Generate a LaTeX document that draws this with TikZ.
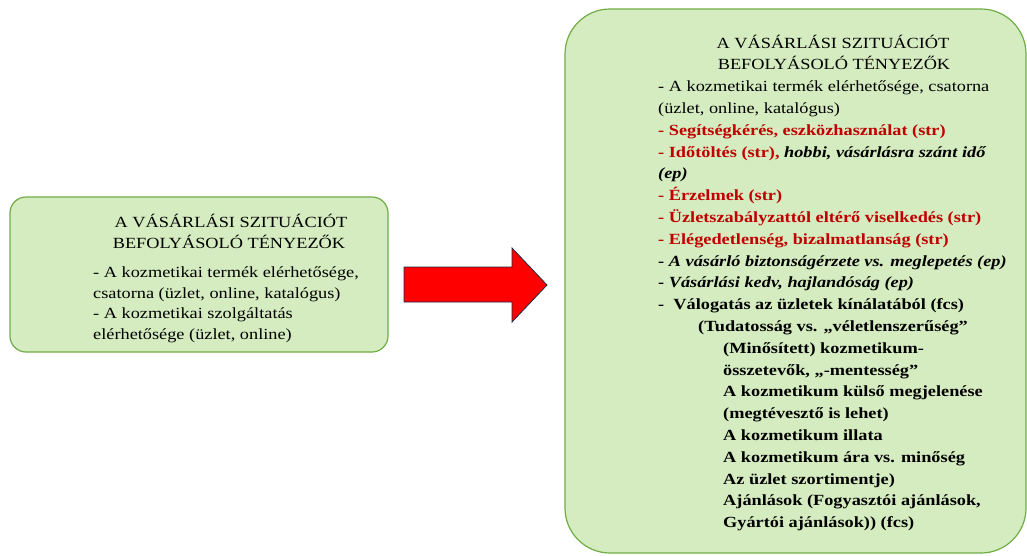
\documentclass[tikz,border=0pt]{standalone}
\usepackage{fontspec}
\setmainfont{Liberation Serif}[FakeStretch=1.18]
\definecolor{boxfill}{RGB}{213,236,192}
\definecolor{boxline}{RGB}{112,173,71}
\definecolor{txtred}{RGB}{192,0,0}
\definecolor{arrowline}{RGB}{31,42,68}
\tikzset{
  box/.style={draw=boxline, line width=1.2pt, fill=boxfill},
  ln/.style={anchor=base west, inner sep=0pt, font=\fontsize{15.5}{18}\selectfont},
  ttl/.style={anchor=base, inner sep=0pt, font=\fontsize{15.5}{18}\selectfont},
  bigarrow/.style={draw=arrowline, line width=0.8pt, fill=red}
}
\newcommand{\rb}[1]{\textcolor{txtred}{\bfseries #1}}
\begin{document}
\begin{tikzpicture}[x=1pt,y=-1pt]
\useasboundingbox (0,0) rectangle (1027,555);
% left box
\draw[box, rounded corners=16pt] (10,197) rectangle (388,352);
\node[ttl] (lt1) at (231,227) {A VÁSÁRLÁSI SZITUÁCIÓT};
\node[ttl] (lt2) at (229,248) {BEFOLYÁSOLÓ TÉNYEZŐK};
\node[ln] (la) at (93,277) {- A kozmetikai termék elérhetősége,};
\node[ln] (lb) at (93,298) {csatorna (üzlet, online, katalógus)};
\node[ln] (lc) at (93,318) {- A kozmetikai szolgáltatás};
\node[ln] (ld) at (93,339) {elérhetősége (üzlet, online)};
% arrow
\draw[bigarrow] (404,267) -- (512,267) -- (512,248) -- (547,285) -- (512,322) -- (512,302) -- (404,302) -- cycle;
% right box
\draw[box, rounded corners=45pt] (565,9) rectangle (1026,553);
\node[ttl] (rt1) at (833,48) {A VÁSÁRLÁSI SZITUÁCIÓT};
\node[ttl] (rt2) at (834,69.8) {BEFOLYÁSOLÓ TÉNYEZŐK};
\node[ln] (r1) at (658,91.6) {- A kozmetikai termék elérhetősége, csatorna};
\node[ln] (r2) at (658,113.4) {(üzlet, online, katalógus)};
\node[ln] (r3) at (658,135.2) {\rb{- Segítségkérés, eszközhasználat (str)}};
\node[ln] (r4) at (658,157.0) {\rb{- Időtöltés (str),} \textbf{\textit{hobbi, vásárlásra szánt idő}}};
\node[ln] (r5) at (658,178.8) {\textbf{\textit{(ep)}}};
\node[ln] (r6) at (658,200.6) {\rb{- Érzelmek (str)}};
\node[ln] (r7) at (658,222.4) {\rb{- Üzletszabályzattól eltérő viselkedés (str)}};
\node[ln] (r8) at (658,244.2) {\rb{- Elégedetlenség, bizalmatlanság (str)}};
\node[ln] (r9) at (658,266.0) {\textbf{- \textit{A vásárló biztonságérzete vs. meglepetés (ep)}}};
\node[ln] (r10) at (658,287.8) {\textbf{- \textit{Vásárlási kedv, hajlandóság (ep)}}};
\node[ln] (r11) at (658,309.6) {\textbf{-\ \ Válogatás az üzletek kínálatából (fcs)}};
\node[ln] (r12) at (698,331.4) {\textbf{(Tudatosság vs. „véletlenszerűség”}};
\node[ln] (r13) at (723,353.2) {\textbf{(Minősített) kozmetikum-}};
\node[ln] (r14) at (723,375.0) {\textbf{összetevők, „-mentesség”}};
\node[ln] (r15) at (723,396.8) {\textbf{A kozmetikum külső megjelenése}};
\node[ln] (r16) at (723,418.6) {\textbf{(megtévesztő is lehet)}};
\node[ln] (r17) at (723,440.4) {\textbf{A kozmetikum illata}};
\node[ln] (r18) at (723,462.2) {\textbf{A kozmetikum ára vs. minőség}};
\node[ln] (r19) at (723,484.0) {\textbf{Az üzlet szortimentje)}};
\node[ln] (r20) at (723,505.8) {\textbf{Ajánlások (Fogyasztói ajánlások,}};
\node[ln] (r21) at (723,527.6) {\textbf{Gyártói ajánlások)) (fcs)}};
\end{tikzpicture}
\end{document}
